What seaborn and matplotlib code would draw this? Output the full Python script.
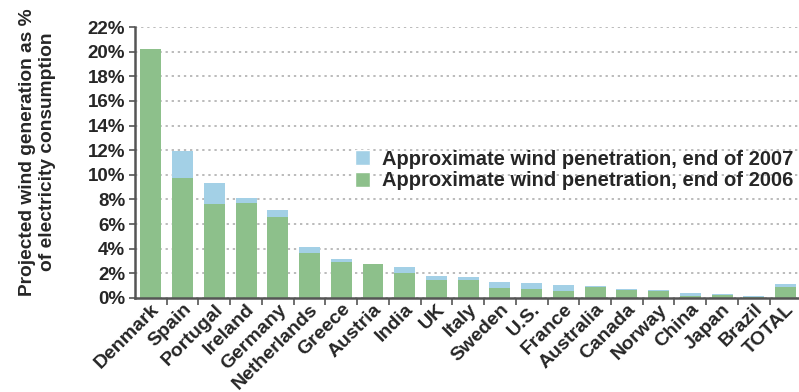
import matplotlib
matplotlib.use("Agg")
import matplotlib.pyplot as plt
from matplotlib.patches import Patch
from matplotlib.ticker import FixedLocator, FuncFormatter
import pandas as pd
import seaborn as sns

countries = ["Denmark", "Spain", "Portugal", "Ireland", "Germany", "Netherlands",
             "Greece", "Austria", "India", "UK", "Italy", "Sweden", "U.S.", "France",
             "Australia", "Canada", "Norway", "China", "Japan", "Brazil", "TOTAL"]
pen_2007 = [20.2, 11.9, 9.3, 8.15, 7.15, 4.1, 3.2, 2.75, 2.55, 1.8, 1.7, 1.3,
            1.22, 1.07, 0.96, 0.73, 0.67, 0.38, 0.35, 0.15, 1.16]
pen_2006 = [20.2, 9.7, 7.6, 7.7, 6.55, 3.65, 2.95, 2.75, 2.05, 1.45, 1.45, 0.8,
            0.72, 0.6, 0.88, 0.65, 0.58, 0.17, 0.27, 0.08, 0.9]
yticks = list(range(0, 23, 2))

label_2007 = "Approximate wind penetration, end of 2007"
label_2006 = "Approximate wind penetration, end of 2006"
blue = "#a3d0e6"
green = "#8dc08b"
ink = "#262626"

sns.set_theme(style="white")
plt.rcParams["font.family"] = ["Liberation Sans", "DejaVu Sans"]
plt.rcParams["font.weight"] = "bold"

df = pd.DataFrame({"country": countries, "y2007": pen_2007, "y2006": pen_2006})

fig = plt.figure(figsize=(7.99, 3.92), dpi=100)
ax = fig.add_axes([0.169, 0.240, 0.834, 0.691])

# 2007 drawn full height, 2006 on top of it -> blue shows the growth
sns.barplot(data=df, x="country", y="y2007", color=blue, width=0.66,
            saturation=1, linewidth=0, ax=ax)
sns.barplot(data=df, x="country", y="y2006", color=green, width=0.66,
            saturation=1, linewidth=0, ax=ax)

ax.set_xlim(-0.5, len(countries) - 0.5)
ax.set_ylim(0, 22)
ax.yaxis.set_major_locator(FixedLocator(yticks))
ax.yaxis.set_major_formatter(FuncFormatter(lambda v, p: f"{v:.0f}%"))
ax.grid(axis="y", color="#a8a8a8", linestyle=(0, (1.5, 2.5)), linewidth=1.1)
ax.set_axisbelow(True)

for s in ["top", "right"]:
    ax.spines[s].set_visible(False)
for s in ["left", "bottom"]:
    ax.spines[s].set_color("#555555")
    ax.spines[s].set_linewidth(1.8)

ax.tick_params(axis="y", which="major", left=True, length=4, width=1.2,
               color="#555555", labelsize=13.5, labelcolor=ink, pad=3)
ax.tick_params(axis="x", which="major", bottom=False, length=0, pad=2)
ax.set_xticks([i + 0.5 for i in range(len(countries) - 1)], minor=True)
ax.tick_params(axis="x", which="minor", bottom=True, length=5, width=1.2,
               color="#555555")
ax.set_xticks(range(len(countries)))
ax.set_xticklabels(countries, rotation=45, ha="right", va="top",
                   rotation_mode="anchor", fontsize=14, color=ink,
                   fontweight="bold")
ax.set_xlabel("")
ax.set_ylabel("")

fig.text(0.047, 1 - 152 / 392,
         "Projected wind generation as %\nof electricity consumption",
         rotation=90, ha="center", va="center", fontsize=13.8, color=ink,
         fontweight="bold", linespacing=1.25)

handles = [Patch(facecolor=blue, label=label_2007),
           Patch(facecolor=green, label=label_2006)]
ax.legend(handles=handles, loc="center left", bbox_to_anchor=(0.318, 0.472),
          frameon=False, fontsize=14.5, handlelength=0.75, handleheight=0.75,
          handletextpad=0.6, labelspacing=0.12, labelcolor=ink,
          borderaxespad=0)

fig.savefig("out.png", dpi=100)
